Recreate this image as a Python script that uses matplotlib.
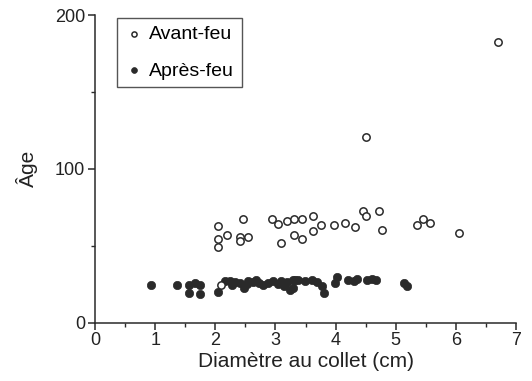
import matplotlib
matplotlib.use("Agg")
import matplotlib.pyplot as plt
from matplotlib.ticker import MultipleLocator

plt.rcParams['font.family'] = ['Liberation Sans', 'DejaVu Sans']

# Avant-feu (open circles)
avant_x = [2.05, 2.05, 2.05, 2.19, 2.46, 2.41, 2.41, 2.54, 2.94, 3.04, 3.10, 3.20,
           3.31, 3.45, 3.31, 3.45, 3.62, 3.62, 3.76, 3.97, 4.16, 4.32, 4.45, 4.51,
           4.72, 4.77, 4.51, 5.36, 5.46, 5.57, 6.05, 6.70, 2.10]
avant_y = [62.9, 54.2, 49.4, 56.8, 67.2, 55.5, 53.1, 55.7, 67.2, 64.2, 52.0, 65.9,
           67.0, 67.2, 56.8, 54.4, 69.4, 59.8, 63.1, 63.1, 64.4, 62.0, 72.8, 69.4,
           72.8, 60.3, 120.4, 63.3, 67.4, 64.4, 58.1, 182.7, 24.4]

# Après-feu (filled circles)
apres_x = [0.93, 1.37, 1.57, 1.66, 1.75, 1.57, 1.75, 2.05, 2.16, 2.24, 2.33, 2.41,
           2.47, 2.55, 2.63, 2.72, 2.80, 2.88, 2.96, 3.05, 3.10, 3.19, 3.24, 3.33,
           3.30, 3.30, 3.38, 3.49, 3.60, 3.69, 3.77, 3.80, 4.02, 3.99, 4.21, 4.30,
           4.35, 4.52, 4.60, 4.68, 5.13, 5.18, 2.28, 2.68, 3.14, 2.52]
apres_y = [24.4, 24.4, 24.4, 25.9, 24.4, 19.0, 18.4, 20.0, 27.0, 27.0, 26.5, 25.5,
           22.7, 27.0, 26.5, 25.5, 24.4, 25.5, 27.0, 25.2, 27.0, 26.5, 21.2, 27.7,
           27.7, 22.3, 27.7, 27.0, 27.7, 26.2, 24.0, 19.0, 29.8, 25.5, 27.7, 27.0,
           28.3, 27.7, 28.3, 27.7, 25.5, 23.8, 24.5, 27.5, 24.0, 25.0]

x_ticks = [0, 1, 2, 3, 4, 5, 6, 7]
y_ticks = [0, 100, 200]

fig = plt.figure(figsize=(5.32, 3.81), dpi=100)
ax = fig.add_axes([95/532, 1-322.5/381, 421/532, 307.5/381])

ink = '#2a2a2a'
ax.scatter(apres_x, apres_y, s=36, c=ink, edgecolors=ink, linewidths=0.5,
           label='Après-feu', zorder=3)
ax.scatter(avant_x, avant_y, s=28, facecolors='white', edgecolors=ink,
           linewidths=1.1, label='Avant-feu', zorder=4)

ax.set_xlim(0, 7)
ax.set_ylim(0, 200)
ax.set_xticks(x_ticks)
ax.set_yticks(y_ticks)
ax.xaxis.set_minor_locator(MultipleLocator(0.5))
ax.yaxis.set_minor_locator(MultipleLocator(50))
for s in ['top', 'right']:
    ax.spines[s].set_visible(False)
for s in ['left', 'bottom']:
    ax.spines[s].set_color(ink)
    ax.spines[s].set_linewidth(1.1)
ax.tick_params(which='major', direction='out', length=5, width=1.1, color=ink,
               labelsize=13, labelcolor='#222222', pad=2)
ax.tick_params(which='minor', direction='out', length=3, width=1.0, color=ink)

ax.set_xlabel('Diamètre au collet (cm)', fontsize=15, color='#222222', labelpad=2)
ax.set_ylabel('Âge', fontsize=15, color='#222222', labelpad=12)

handles, labels = ax.get_legend_handles_labels()
leg = ax.legend(handles[::-1], labels[::-1], loc='upper left',
                bbox_to_anchor=(0.052, 0.99), fontsize=14, frameon=True,
                fancybox=False, edgecolor=ink, labelspacing=0.95,
                handletextpad=0.25, handlelength=1.0, borderpad=0.4,
                markerscale=0.7, borderaxespad=0)
leg.get_frame().set_linewidth(1.0)

fig.savefig('out.png', dpi=100)
